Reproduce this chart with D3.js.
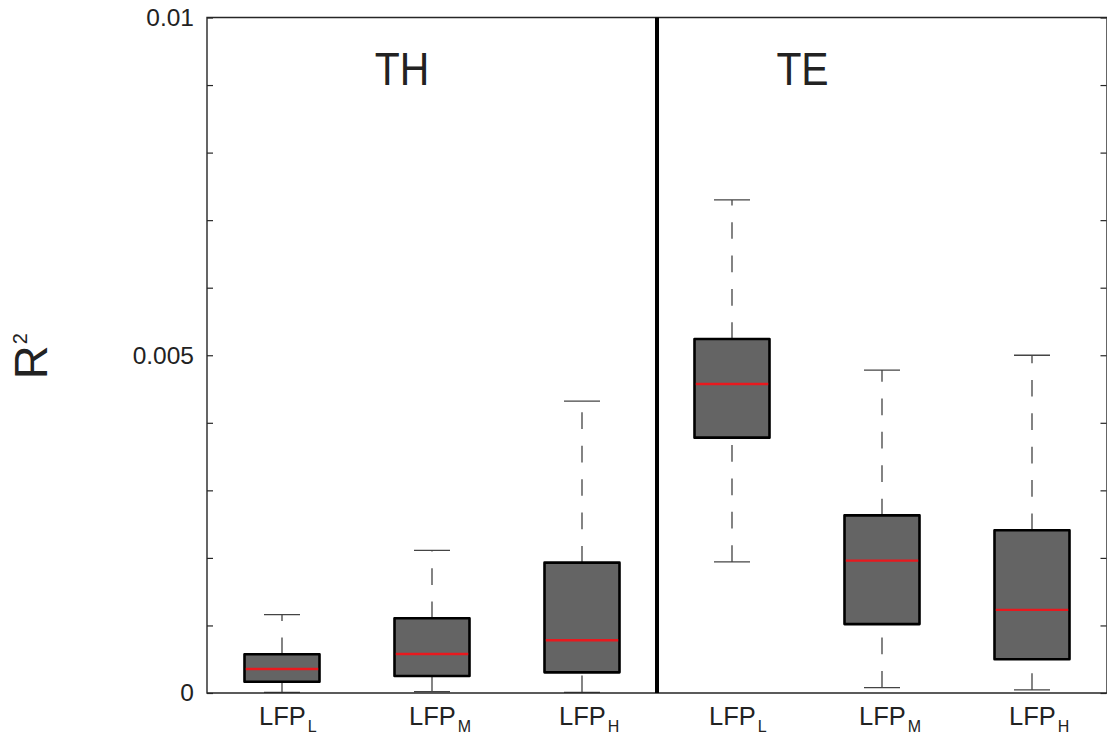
<!DOCTYPE html>
<html><head><meta charset="utf-8">
<script src="https://cdn.jsdelivr.net/npm/d3@7"></script>
<style>
html,body{margin:0;padding:0;background:#fff;}
svg{display:block;font-family:"Liberation Sans",Arial,Helvetica,sans-serif;}
</style></head>
<body>
<svg id="chart" width="1107" height="738"></svg>
<script>
// ---- data ----
const positions = [1, 2, 3, 4, 5, 6];
const subscripts = ["L", "M", "H", "L", "M", "H"];
const lowerWhisker = [0.00001, 0.00002, 0.00001, 0.00194, 0.00008, 0.000045];
const q1 = [0.000167, 0.000252, 0.000306, 0.00378, 0.00102, 0.0005];
const medians = [0.000355, 0.000577, 0.00078, 0.004574, 0.00196, 0.00123];
const q3 = [0.000573, 0.001106, 0.00193, 0.00524, 0.00263, 0.00241];
const upperWhisker = [0.00116, 0.00211, 0.00432, 0.0073, 0.00478, 0.0050];
const groupNames = ["TH", "TE"];
const groupLabelX = [1.8, 4.47];
const dividerX = 3.5;
const yTickValues = [0, 0.001, 0.002, 0.003, 0.004, 0.005, 0.006, 0.007, 0.008, 0.009, 0.01];
const yTickLabels = {"0": "0", "0.005": "0.005", "0.01": "0.01"};

const svg = d3.select("#chart");
const x = d3.scaleLinear().domain([0.5, 6.5]).range([207, 1107]);
const y = d3.scaleLinear().domain([0, 0.01]).range([693, 17.5]);
const axisColor = "#262626";
const boxW = 0.5, capW = 0.24;

const data = positions.map((p, i) => ({
  p, sub: subscripts[i], lo: lowerWhisker[i], q1: q1[i], med: medians[i], q3: q3[i], hi: upperWhisker[i]
}));

// whiskers (dashed, drawn from lower value upward)
const g = svg.append("g");
data.forEach(d => {
  const cx = x(d.p);
  [[d.lo, d.q1], [d.q3, d.hi]].forEach(([a, b]) => {
    g.append("line").attr("x1", cx).attr("x2", cx).attr("y1", y(a)).attr("y2", y(b))
      .attr("stroke", "#333").attr("stroke-width", 1.2).attr("stroke-dasharray", "16.7,16.7");
  });
  [d.lo, d.hi].forEach(v => {
    g.append("line").attr("x1", x(d.p - capW / 2)).attr("x2", x(d.p + capW / 2))
      .attr("y1", y(v)).attr("y2", y(v)).attr("stroke", "#444").attr("stroke-width", 1.3);
  });
  g.append("rect").attr("x", x(d.p - boxW / 2)).attr("width", x(d.p + boxW / 2) - x(d.p - boxW / 2))
    .attr("y", y(d.q3)).attr("height", y(d.q1) - y(d.q3))
    .attr("fill", "#646464").attr("stroke", "#000").attr("stroke-width", 2.6)
    .attr("stroke-linejoin", "round");
  g.append("line").attr("x1", x(d.p - boxW / 2) + 1.3).attr("x2", x(d.p + boxW / 2) - 1.3)
    .attr("y1", y(d.med)).attr("y2", y(d.med)).attr("stroke", "#e8191e").attr("stroke-width", 2.4);
});

// frame
svg.append("path")
  .attr("d", `M${x(0.5)},${y(0)} L${x(0.5)},${y(0.01)} L${x(6.5)},${y(0.01)} L${x(6.5)},${y(0)} Z`)
  .attr("fill", "none").attr("stroke", axisColor).attr("stroke-width", 1.4);

// ticks (inside, left and right)
const leftAxis = d3.axisLeft(y).tickValues(yTickValues).tickSize(-6).tickPadding(13)
  .tickFormat(v => { const k = String(+v.toFixed(4)); return yTickLabels[k] || ""; });
const la = svg.append("g").attr("transform", `translate(${x(0.5)},0)`).call(leftAxis);
la.select(".domain").remove();
la.selectAll(".tick line").attr("stroke", axisColor).attr("stroke-width", 1.2);
la.selectAll(".tick text").attr("font-size", 24.5).attr("fill", "#222")
  .attr("font-family", "'Liberation Sans', Arial, sans-serif");

const rightAxis = d3.axisRight(y).tickValues(yTickValues).tickSize(-6).tickFormat("");
const ra = svg.append("g").attr("transform", `translate(${x(6.5) - 0.5},0)`).call(rightAxis);
ra.select(".domain").remove();
ra.selectAll(".tick line").attr("stroke", axisColor).attr("stroke-width", 1.2);

// divider
svg.append("line").attr("x1", x(dividerX)).attr("x2", x(dividerX)).attr("y1", y(0.01)).attr("y2", y(0))
  .attr("stroke", "#000").attr("stroke-width", 4);

// group labels
groupNames.forEach((name, i) => {
  const gx = x(groupLabelX[i]);
  svg.append("text").attr("transform", `translate(${gx},85) scale(0.87,1)`)
    .attr("text-anchor", "middle")
    .attr("font-size", 47).attr("fill", "#222").text(name);
});

// x labels
data.forEach(d => {
  const t = svg.append("text").attr("x", x(d.p) - 23).attr("y", 725)
    .attr("font-size", 25.5).attr("fill", "#222");
  t.append("tspan").text("LFP");
  t.append("tspan").attr("dy", 7).attr("dx", 2).attr("font-size", 16).text(d.sub);
});

// y label
const yl = svg.append("text").attr("transform", `translate(47,${y(0.005) + 24}) rotate(-90)`)
  .attr("font-size", 47).attr("fill", "#222");
yl.append("tspan").text("R");
yl.append("tspan").attr("font-size", 20).attr("dy", -20).attr("dx", 1).text("2");
</script>
</body></html>
